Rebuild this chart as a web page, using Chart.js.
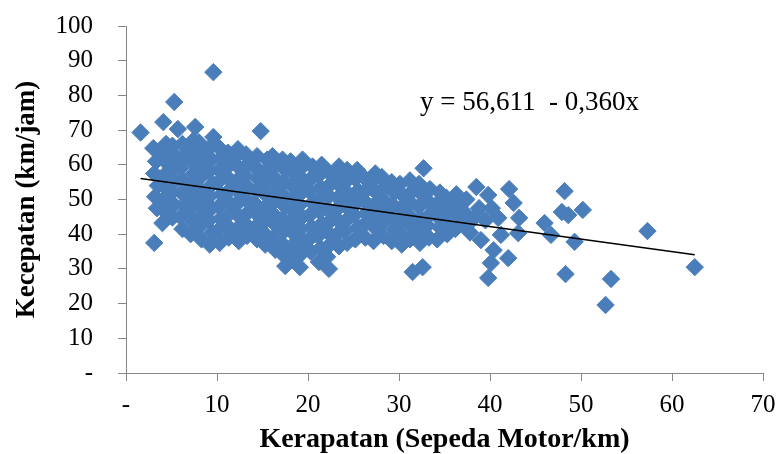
<!DOCTYPE html>
<html>
<head>
<meta charset="utf-8">
<script src="https://cdn.jsdelivr.net/npm/chart.js"></script>
<style>
  html, body { margin: 0; padding: 0; background: #fff; }
  #chart { display: block; }
</style>
</head>
<body>
<canvas id="chart" width="778" height="454"></canvas>
<script>
// density (motorcycles/km) vs speed (km/h)
const coreObservations = [
  [3.4,47.5],[3.2,50.8],[3.5,54],[3.1,57.5],[3.3,61],[3.0,64.8],
  [4.0,43.2],[4.3,46.5],[4.1,50],[4.4,53.5],[4.2,57],[4.5,60.5],[4.1,63.5],[4.4,66],
  [5.1,44.8],[5.3,48.5],[5.0,52],[5.4,55.5],[5.2,59],[5.5,62.5],[5.1,65.5],
  [6.2,41.5],[6.0,45],[6.4,48.5],[6.1,52],[6.3,55.5],[6.0,59],[6.4,62.5],[6.2,66],
  [7.1,40],[7.4,43.5],[7.0,47],[7.3,50.5],[7.1,54],[7.5,57.5],[7.2,61],[7.0,64.5],[7.4,67],
  [8.3,38.5],[8.0,42],[8.4,45.5],[8.1,49],[8.3,52.5],[8.0,56],[8.4,59.5],[8.2,63],[8.0,66.5],
  [9.2,37],[9.5,40.5],[9.1,44],[9.4,47.5],[9.2,51],[9.5,54.5],[9.1,58],[9.4,61.5],[9.2,65],[9.6,68],
  [10.3,37.5],[10.1,41],[10.4,44.5],[10.2,48],[10.5,51.5],[10.1,55],[10.3,58.5],[10.5,62],[10.2,65],
  [11.3,39],[11.1,42.5],[11.4,46],[11.2,49.5],[11.5,53],[11.1,56.5],[11.4,60],[11.2,63.5],
  [12.4,38],[12.2,41.5],[12.5,45],[12.1,48.5],[12.4,52],[12.2,55.5],[12.5,59],[12.1,62.5],[12.3,64.5],
  [13.3,39.5],[13.1,43],[13.5,46.5],[13.2,50],[13.4,53.5],[13.1,57],[13.5,60.5],[13.2,63],
  [14.4,38.5],[14.2,42],[14.5,45.5],[14.1,49],[14.3,52.5],[14.5,56],[14.2,59.5],[14.4,62.5],
  [15.3,37],[15.1,40.5],[15.4,44],[15.2,47.5],[15.5,51],[15.1,54.5],[15.3,58],[15.5,61.5],
  [16.4,35.5],[16.2,39],[16.5,42.5],[16.1,46],[16.3,49.5],[16.5,53],[16.2,56.5],[16.4,60],[16.1,62.5],
  [17.3,34],[17.5,30.8],[17.1,37.5],[17.4,41],[17.2,44.5],[17.5,48],[17.1,51.5],[17.3,55],[17.5,58.5],[17.2,61.5],
  [18.4,33],[18.2,36.5],[18.5,40],[18.1,43.5],[18.3,47],[18.5,50.5],[18.2,54],[18.4,57.5],[18.1,61],
  [19.1,30.5],[19.3,34.5],[19.5,38],[19.2,41.5],[19.4,45],[19.1,48.5],[19.3,52],[19.5,55.5],[19.2,59],[19.4,61.5],
  [20.3,35],[20.1,38.5],[20.4,42],[20.2,45.5],[20.5,49],[20.1,52.5],[20.3,56],[20.5,59.5],
  [21.2,32],[21.4,36],[21.1,39.5],[21.5,43],[21.3,46.5],[21.1,50],[21.4,53.5],[21.2,57],[21.5,60],
  [22.3,30],[22.1,33.5],[22.4,37],[22.2,40.5],[22.5,44],[22.1,47.5],[22.3,51],[22.5,54.5],[22.2,58],
  [23.4,36.5],[23.2,40],[23.5,43.5],[23.1,47],[23.3,50.5],[23.5,54],[23.2,57.5],[23.4,59.5],
  [24.3,37.5],[24.1,41],[24.4,44.5],[24.2,48],[24.5,51.5],[24.1,55],[24.3,58.5],
  [25.2,38.5],[25.5,42],[25.1,45.5],[25.3,49],[25.5,52.5],[25.2,56],[25.4,58.5],
  [26.3,39],[26.1,42.5],[26.4,46],[26.2,49.5],[26.5,53],[26.1,56.5],
  [27.2,38],[27.5,41.5],[27.1,45],[27.3,48.5],[27.5,52],[27.2,55.5],[27.4,57.5],
  [28.3,39.5],[28.1,43],[28.4,46.5],[28.2,50],[28.5,53.5],[28.1,56.5],
  [29.2,38],[29.5,41.5],[29.1,45],[29.3,48.5],[29.5,52],[29.2,55],
  [30.3,37],[30.1,40.5],[30.4,44],[30.2,47.5],[30.5,51],[30.1,54.5],
  [31.2,38.5],[31.5,42],[31.1,45.5],[31.3,49],[31.5,52.5],[31.2,55.5],
  [32.3,37.5],[32.1,41],[32.4,44.5],[32.2,48],[32.5,51.5],[32.2,54.5],[32.7,59],
  [33.3,39],[33.1,42.5],[33.5,46],[33.2,49.5],[33.4,53],
  [34.2,38.5],[34.5,42],[34.1,45.5],[34.3,49],[34.5,52],
  [35.3,40],[35.1,43.5],[35.4,47],[35.2,50.5],
  [36.2,41.5],[36.5,45],[36.1,48.5],[36.3,51.5],
  [37.3,43],[37.1,46.5],[37.4,50],[37.8,40.5]
];
const tailObservations = [
  [38.5,53.6],[39.8,51.3],[38.8,47.5],[39.5,44],[38.2,44.5],[40.2,47.5],[39.0,38.3],
  [40.4,35.4],[40.1,31.7],[39.8,27.4],[40.9,44.7],[41.2,39.8],[42.0,33.1],[42.1,53],
  [42.6,49],[43.2,44.7],[43.1,40.3],[46.0,43.2],[46.7,39.8],[47.9,46.4],[48.2,52.4],
  [48.6,45.5],[49.3,37.8],[50.2,47],[48.3,28.5],[52.7,19.6],[53.3,27.1],[57.3,40.9],[62.5,30.5],
  [31.5,29.1],[32.6,30.5]
];
const outlierObservations = [
  [1.6,69.3],[9.6,86.7],[5.3,78.1],[4.1,72.3],[5.7,70.3],[7.6,70.9],[14.8,69.7],[3.1,37.5]
];
// regression printed on the chart: y = 56,611 - 0,360x
const trendIntercept = 56.611;
const trendSlope = -0.360;
const trendLabel = 'y = 56,611  - 0,360x';
const xTicks = [0, 10, 20, 30, 40, 50, 60, 70];
const yTicks = [0, 10, 20, 30, 40, 50, 60, 70, 80, 90, 100];

const allObservations = [...coreObservations, ...tailObservations, ...outlierObservations];
const scatterPoints = allObservations.map(([x, y]) => ({ x, y }));
const xs = allObservations.map(p => p[0]);
const xMin = Math.min(...xs), xMax = Math.max(...xs);
const trendPoints = [xMin, xMax].map(x => ({ x, y: trendIntercept + trendSlope * x }));

const serif = '"Liberation Serif", "Times New Roman", serif';
const axisGray = '#868686';
const markerBlue = '#4A7EBB';
const dashZero = v => v === 0 ? '-' : String(v);

const equationLabel = {
  id: 'equationLabel',
  afterDatasetsDraw(chart) {
    const { ctx, scales: { x, y } } = chart;
    ctx.save();
    ctx.font = `27px ${serif}`;
    ctx.fillStyle = '#000';
    ctx.textAlign = 'left';
    ctx.textBaseline = 'middle';
    ctx.fillText(trendLabel, x.getPixelForValue(32.3), y.getPixelForValue(77.8));
    ctx.restore();
  }
};

new Chart(document.getElementById('chart'), {
  type: 'scatter',
  data: {
    datasets: [
      { type: 'line', label: 'Trend', data: trendPoints, borderColor: '#000', borderWidth: 1.5,
        pointRadius: 0, fill: false, order: 0 },
      { label: 'Observasi', data: scatterPoints, pointStyle: 'rectRot', pointRadius: 8.7,
        backgroundColor: markerBlue, borderColor: markerBlue, borderWidth: 1, order: 1 }
    ]
  },
  options: {
    responsive: false,
    animation: false,
    devicePixelRatio: 1,
    layout: { padding: { top: 26, right: 15, bottom: 0, left: 0 } },
    plugins: { legend: { display: false }, tooltip: { enabled: false } },
    scales: {
      x: {
        type: 'linear', min: 0, max: 70,
        afterBuildTicks: s => { s.ticks = xTicks.map(value => ({ value })); },
        afterFit: s => { s.height = 81; s.paddingLeft = 0; s.paddingRight = 0; },
        ticks: { callback: dashZero, color: '#000', padding: 9, font: { family: serif, size: 25 } },
        grid: { display: true, drawOnChartArea: false, drawTicks: true, tickLength: 8, color: axisGray },
        border: { color: axisGray, width: 1 },
        title: { display: true, text: 'Kerapatan (Sepeda Motor/km)', color: '#000',
          font: { family: serif, size: 28, weight: 'bold' }, padding: { top: 0, bottom: -3 } }
      },
      y: {
        type: 'linear', min: 0, max: 100,
        afterBuildTicks: s => { s.ticks = yTicks.map(value => ({ value })); },
        afterFit: s => { s.width = 126; s.paddingTop = 0; s.paddingBottom = 0; },
        ticks: { callback: dashZero, color: '#000', padding: 25, font: { family: serif, size: 25 } },
        grid: { display: true, drawOnChartArea: false, drawTicks: true, tickLength: 8, color: axisGray },
        border: { color: axisGray, width: 1 },
        title: { display: true, text: 'Kecepatan (km/jam)', color: '#000',
          font: { family: serif, size: 27, weight: 'bold' }, padding: { top: 11, bottom: 0 } }
      }
    }
  },
  plugins: [equationLabel]
});
</script>
</body>
</html>
